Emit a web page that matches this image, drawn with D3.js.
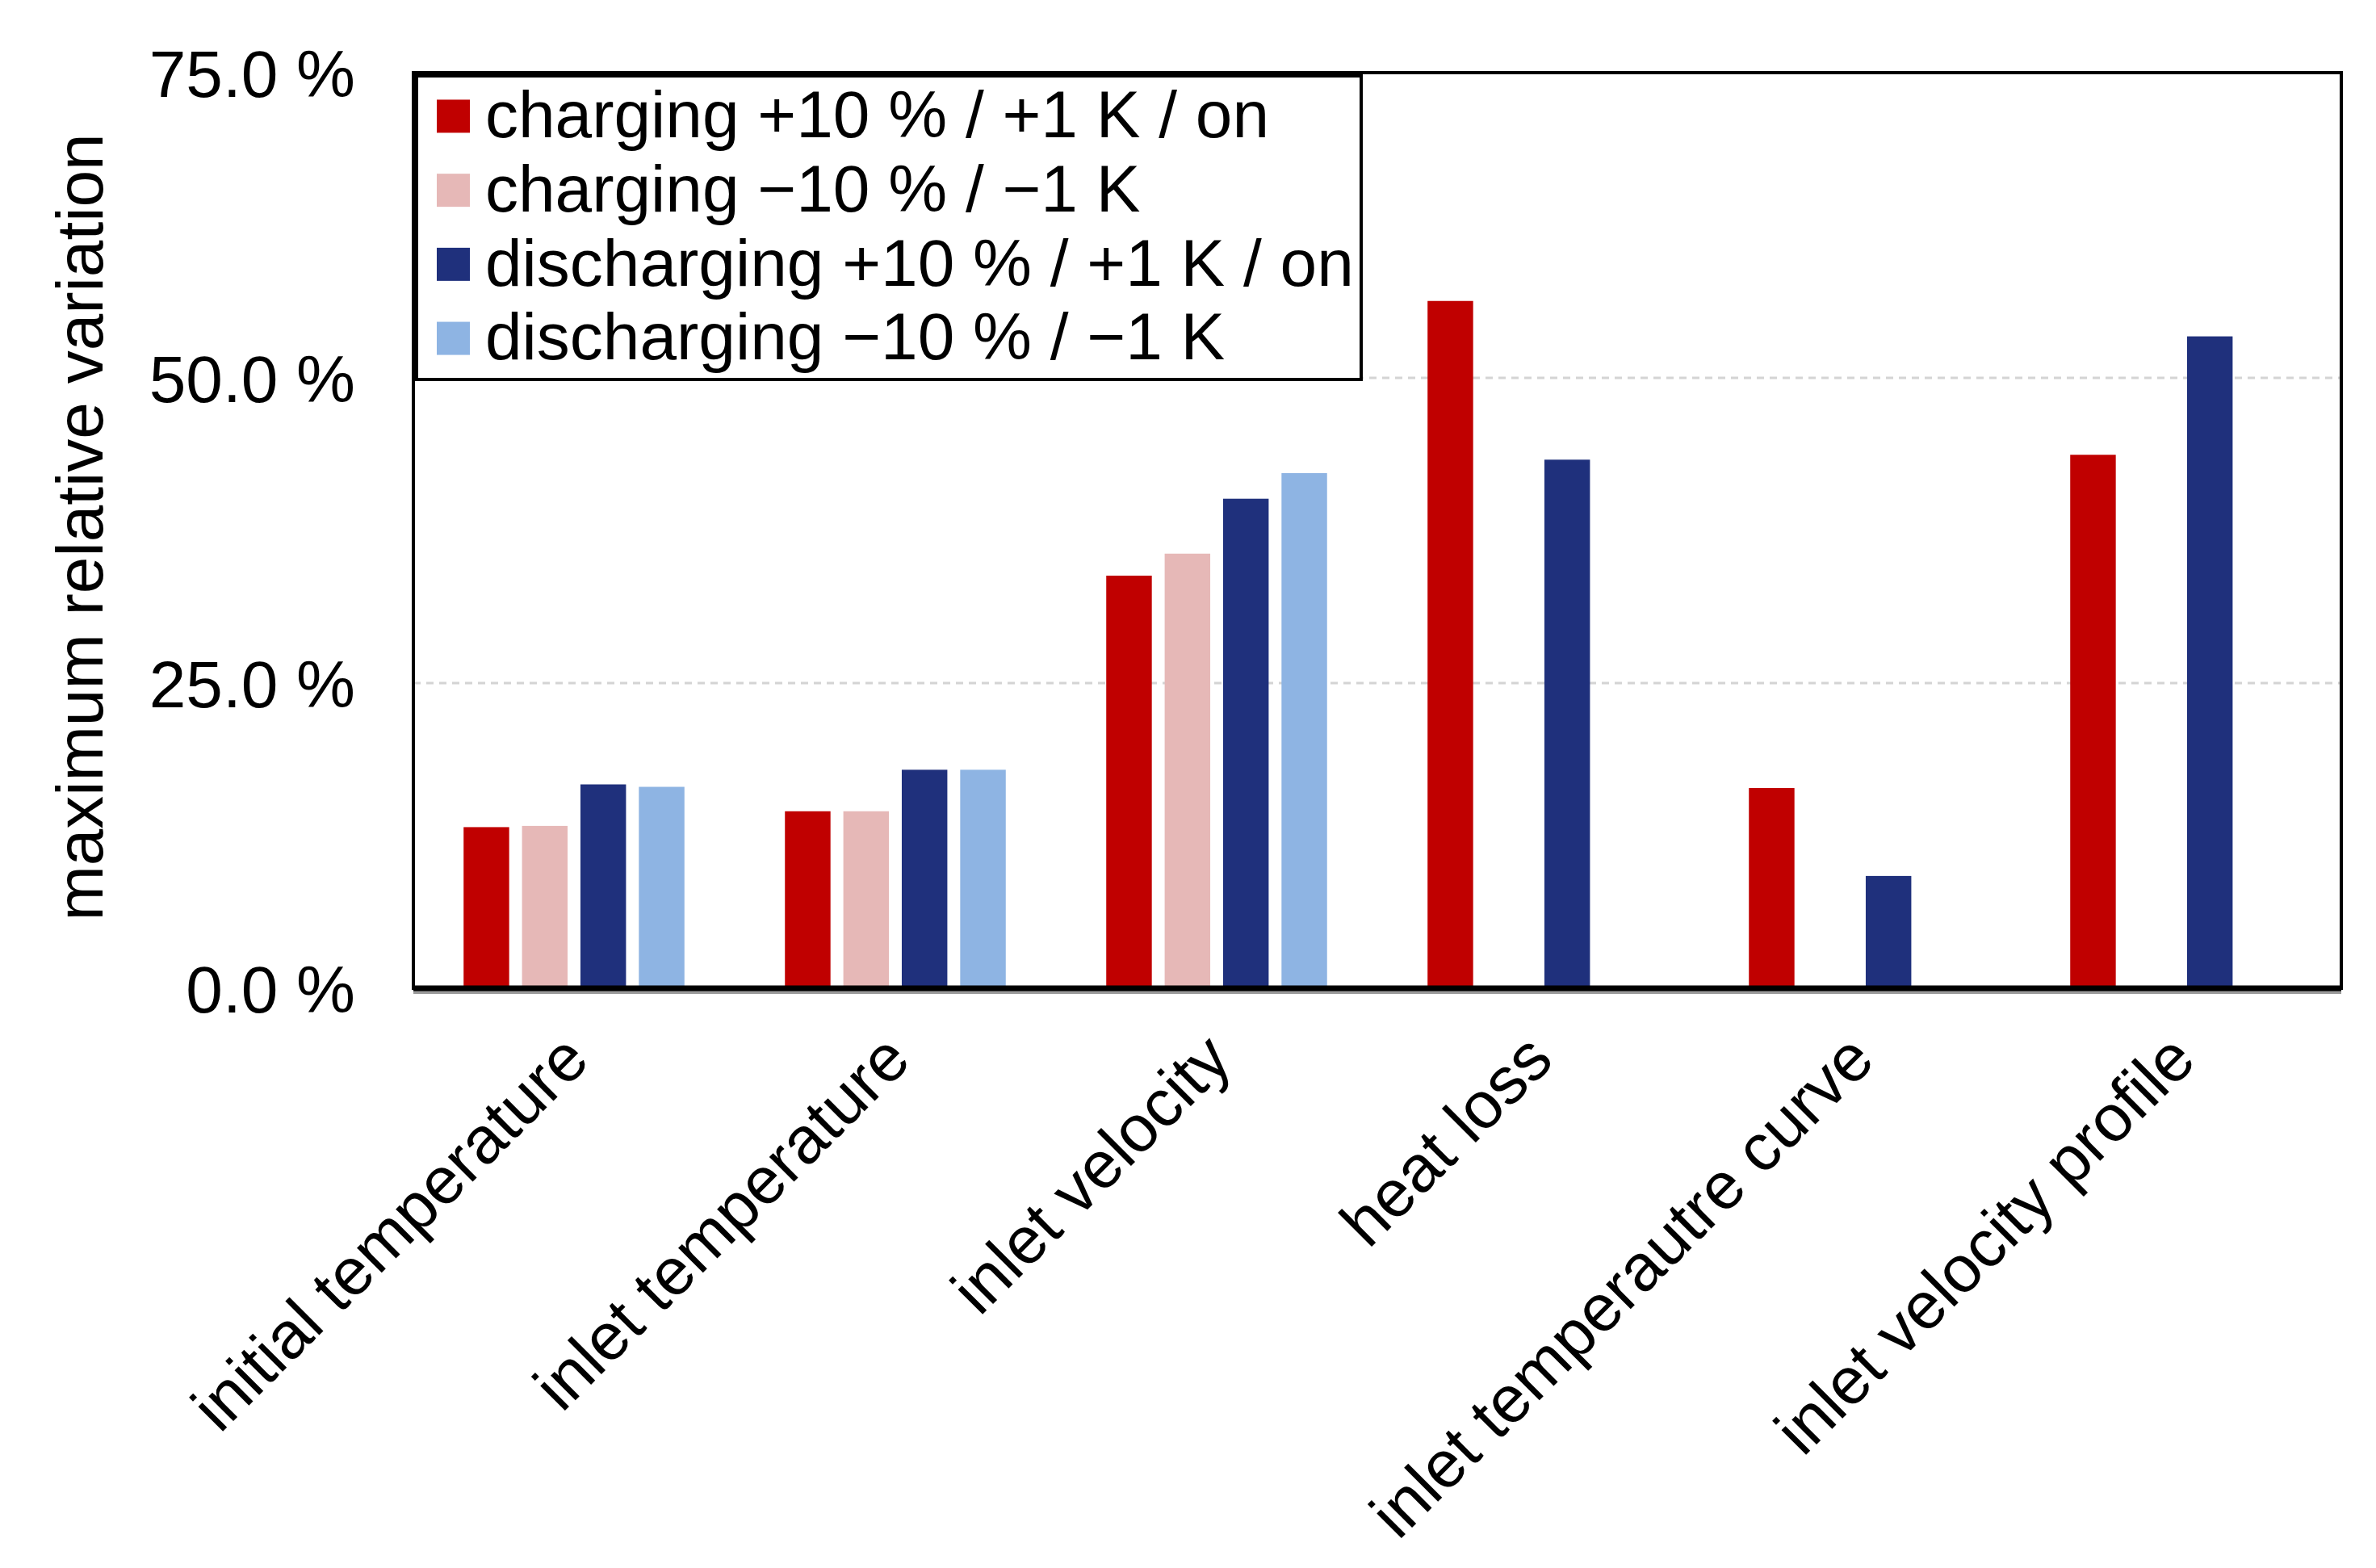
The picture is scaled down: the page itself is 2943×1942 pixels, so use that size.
<!DOCTYPE html>
<html>
<head>
<meta charset="utf-8">
<script src="https://cdn.jsdelivr.net/npm/d3@7"></script>
<style>
  html, body { margin: 0; padding: 0; background: #ffffff; }
  svg { display: block; }
  text { font-family: "Liberation Sans", Arial, "DejaVu Sans", sans-serif; fill: #000; }
</style>
</head>
<body>
<svg id="chart" width="2943" height="1942"></svg>
<script>
// ---- data ----
const categories = ["initial temperature", "inlet temperature", "inlet velocity", "heat loss", "inlet temperautre curve", "inlet velocity profile"];
const seriesNames = ["charging +10 % / +1 K / on", "charging \u221210 % / \u22121 K", "discharging +10 % / +1 K / on", "discharging \u221210 % / \u22121 K"];
const seriesColors = ["#c00000", "#e6b8b7", "#1f307c", "#8eb4e3"];
const chargingPlus   = [13.2, 14.5, 33.8, 56.3, 16.4, 43.7];
const chargingMinus  = [13.3, 14.5, 35.6, null, null, null];
const dischargingPlus  = [16.7, 17.9, 40.1, 43.3, 9.2, 53.4];
const dischargingMinus = [16.5, 17.9, 42.2, null, null, null];
const yTicks = [0, 25, 50, 75];
const yTickLabels = ["0.0 %", "25.0 %", "50.0 %", "75.0 %"];
const yAxisTitle = "maximum relative variation";

const seriesValues = [chargingPlus, chargingMinus, dischargingPlus, dischargingMinus];

// ---- layout ----
const margin = { left: 512, right: 43, top: 90, bottom: 718 };
const W = 2943, H = 1942;
const plotW = W - margin.left - margin.right;
const plotH = H - margin.top - margin.bottom;
const fontSize = "82px";

const svg = d3.select("#chart");
const g = svg.append("g").attr("transform", `translate(${margin.left},${margin.top})`);

const x0 = d3.scaleBand().domain(categories).range([0, plotW]).paddingInner(0).paddingOuter(0);
const x1 = d3.scaleBand().domain(d3.range(seriesNames.length)).range([0, x0.bandwidth()]).paddingInner(0.22).paddingOuter(0.86);
const y = d3.scaleLinear().domain([0, 75]).range([plotH, 0]);

// gridlines
g.append("g").selectAll("line").data([25, 50]).join("line")
  .attr("x1", 0).attr("x2", plotW)
  .attr("y1", d => y(d)).attr("y2", d => y(d))
  .attr("stroke", "#d4d4d4").attr("stroke-width", 3).attr("stroke-dasharray", "9,7");

// bars
const rows = [];
categories.forEach((c, ci) => {
  seriesValues.forEach((arr, si) => {
    if (arr[ci] != null) rows.push({ c, si, v: arr[ci] });
  });
});
g.append("g").selectAll("rect").data(rows).join("rect")
  .attr("x", d => x0(d.c) + x1(d.si))
  .attr("width", x1.bandwidth())
  .attr("y", d => y(d.v))
  .attr("height", d => plotH - y(d.v))
  .attr("fill", d => seriesColors[d.si]);

// frame
g.append("rect").attr("x", 0).attr("y", 0).attr("width", plotW).attr("height", plotH)
  .attr("fill", "none").attr("stroke", "#000").attr("stroke-width", 4);
// bottom axis line with shadow
g.append("line").attr("x1", 0).attr("x2", plotW).attr("y1", plotH + 5).attr("y2", plotH + 5)
  .attr("stroke", "#9a9a9a").attr("stroke-width", 4);
g.append("line").attr("x1", 0).attr("x2", plotW).attr("y1", plotH).attr("y2", plotH)
  .attr("stroke", "#000").attr("stroke-width", 7);

// y axis labels
const yAxis = d3.axisLeft(y).tickValues(yTicks).tickFormat((d, i) => yTickLabels[i]).tickSize(0).tickPadding(72);
const ya = g.append("g").call(yAxis);
ya.select(".domain").remove();
ya.selectAll("text").style("font-size", fontSize).attr("dy", "0.36em")
  .style("font-family", '"Liberation Sans", Arial, sans-serif');

// y axis title
svg.append("text")
  .attr("transform", `translate(98,${margin.top + plotH / 2 - 4}) rotate(-90)`)
  .attr("text-anchor", "middle")
  .attr("dy", "0.35em")
  .style("font-size", fontSize)
  .text(yAxisTitle);

// x labels
g.append("g").selectAll("text").data(categories).join("text")
  .attr("transform", d => `translate(${x0(d) + x0.bandwidth() / 2 + 22},${plotH + 92}) rotate(-45)`)
  .attr("text-anchor", "end")
  .style("font-size", fontSize)
  .text(d => d);

// legend
const lg = g.append("g").attr("transform", "translate(4,4)");
const legW = 1170, legH = 376;
lg.append("rect").attr("x", 0).attr("y", 0).attr("width", legW).attr("height", legH)
  .attr("fill", "#fff").attr("stroke", "#000").attr("stroke-width", 4);
const ls = d3.scaleBand().domain(d3.range(seriesNames.length)).range([0, legH]).paddingOuter(0.05);
const items = lg.selectAll("g.item").data(seriesNames).join("g").attr("class", "item")
  .attr("transform", (d, i) => `translate(0,${ls(i) + ls.bandwidth() / 2 - 3})`);
items.append("rect").attr("x", 25).attr("y", -18).attr("width", 41).attr("height", 41)
  .attr("fill", (d, i) => seriesColors[i]);
items.append("text").attr("x", 85).attr("dy", "0.35em").style("font-size", fontSize).text(d => d);
</script>
</body>
</html>
